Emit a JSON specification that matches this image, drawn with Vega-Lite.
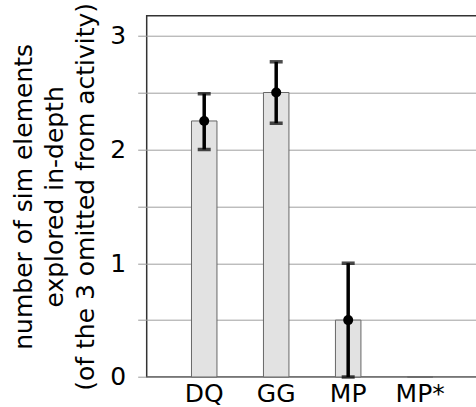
{
  "$schema": "https://vega.github.io/schema/vega-lite/v6.json",
  "autosize": {"type": "none"},
  "padding": {"left": 146.7, "top": 15.7, "right": 0, "bottom": 30},
  "width": 331,
  "height": 361.3,
  "config": {
    "view": {"stroke": "#333333", "strokeWidth": 1.5},
    "font": "DejaVu Sans"
  },
  "data": {
    "values": [
      {"cond": "DQ", "mean": 2.25, "lo": 2.0, "hi": 2.49},
      {"cond": "GG", "mean": 2.5, "lo": 2.23, "hi": 2.77},
      {"cond": "MP", "mean": 0.5, "lo": 0.0, "hi": 1.0},
      {"cond": "MP*", "mean": 0.0, "lo": null, "hi": null}
    ]
  },
  "encoding": {
    "x": {
      "field": "cond",
      "type": "nominal",
      "sort": null,
      "scale": {"paddingInner": 0.646, "paddingOuter": 0.622},
      "axis": {
        "title": null,
        "labelAngle": 0,
        "labelFont": "DejaVu Sans",
        "labelFontSize": 25,
        "labelColor": "#000000",
        "labelPadding": 5,
        "ticks": false,
        "domain": false,
        "grid": false
      }
    }
  },
  "layer": [
    {
      "mark": {"type": "bar", "fill": "#e2e2e2", "stroke": "#666666", "strokeWidth": 1},
      "encoding": {
        "y": {
          "field": "mean",
          "type": "quantitative",
          "scale": {"domain": [0, 3.175], "nice": false, "zero": true},
          "axis": {
            "values": [0, 0.5, 1, 1.5, 2, 2.5, 3],
            "labelExpr": "datum.value % 1 === 0 ? format(datum.value, 'd') : ''",
            "title": ["number of sim elements", "explored in-depth", "(of the 3 omitted from activity)"],
            "titleFont": "DejaVu Sans",
            "titleFontSize": 25,
            "titleFontWeight": "normal",
            "titleColor": "#000000",
            "titleLineHeight": 31,
            "titlePadding": 11,
            "labelFont": "DejaVu Sans",
            "labelFontSize": 25,
            "labelColor": "#000000",
            "labelPadding": 12,
            "tickSize": 9,
            "tickColor": "#999999",
            "tickWidth": 1,
            "domain": false,
            "grid": true,
            "gridColor": "#a0a0a0",
            "gridWidth": 1,
            "gridOpacity": 1
          }
        }
      }
    },
    {
      "mark": {"type": "rule", "color": "#000000", "strokeWidth": 3.5},
      "encoding": {
        "y": {"field": "lo", "type": "quantitative"},
        "y2": {"field": "hi"}
      }
    },
    {
      "mark": {"type": "tick", "color": "#000000", "size": 13, "thickness": 3.5, "orient": "horizontal"},
      "encoding": {"y": {"field": "lo", "type": "quantitative"}}
    },
    {
      "mark": {"type": "tick", "color": "#000000", "size": 13, "thickness": 3.5, "orient": "horizontal"},
      "encoding": {"y": {"field": "hi", "type": "quantitative"}}
    },
    {
      "transform": [{"filter": "datum.hi != null"}],
      "mark": {"type": "point", "filled": true, "shape": "circle", "color": "#000000", "size": 100, "opacity": 1},
      "encoding": {"y": {"field": "mean", "type": "quantitative"}}
    }
  ]
}
